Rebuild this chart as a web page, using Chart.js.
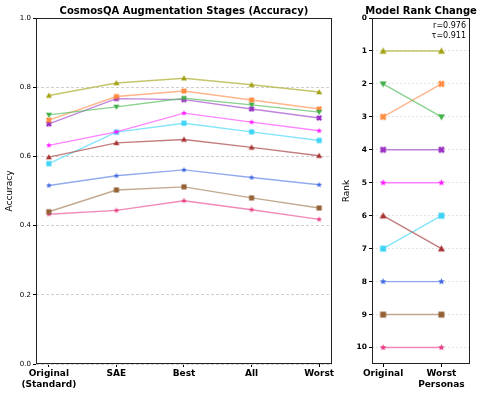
<!DOCTYPE html>
<html>
<head>
<meta charset="utf-8">
<script src="https://cdn.jsdelivr.net/npm/chart.js@4/dist/chart.umd.min.js"></script>
<style>
  body { margin: 0; background: #fff; font-family: "DejaVu Sans", sans-serif; }
  #wrap { position: relative; width: 488px; height: 395px; }
  .title { position: absolute; top: 5px; font-weight: bold; font-size: 10px; line-height: 12px;
           white-space: nowrap; transform: translateX(-50%); color: #000; }
  canvas { position: absolute; top: 0; }
</style>
</head>
<body>
<div id="wrap">
  <canvas id="accChart" width="340" height="395" style="left:0;width:340px;height:395px"></canvas>
  <canvas id="rankChart" width="148" height="395" style="left:340px;width:148px;height:395px"></canvas>
  <div class="title" style="left:184px">CosmosQA Augmentation Stages (Accuracy)</div>
  <div class="title" style="left:421px">Model Rank Change</div>
</div>
<script>
// stages on the left panel
const stageLabels = [["Original", "(Standard)"], "SAE", "Best", "All", "Worst"];
const rankLabels = ["Original", ["Worst", "Personas"]];

// accuracy per model across stages
const model1 = [0.776, 0.812, 0.826, 0.807, 0.786];
const model2 = [0.720, 0.743, 0.768, 0.749, 0.728];
const model3 = [0.705, 0.773, 0.789, 0.763, 0.737];
const model4 = [0.694, 0.767, 0.764, 0.737, 0.711];
const model5 = [0.632, 0.671, 0.725, 0.699, 0.674];
const model6 = [0.598, 0.639, 0.649, 0.626, 0.602];
const model7 = [0.579, 0.670, 0.696, 0.671, 0.646];
const model8 = [0.516, 0.544, 0.561, 0.539, 0.518];
const model9 = [0.440, 0.503, 0.512, 0.480, 0.451];
const model10 = [0.433, 0.444, 0.472, 0.446, 0.418];

// ranks: original vs worst personas
const originalRanks = [1, 2, 3, 4, 5, 6, 7, 8, 9, 10];
const worstRanks = [1, 3, 2, 4, 5, 7, 6, 8, 9, 10];

const pearsonR = 0.976;
const kendallTau = 0.911;

const accSeries = [model1, model2, model3, model4, model5, model6, model7, model8, model9, model10];
const modelColors = ["#a3a312", "#44b04a", "#ff8a3d", "#9a2fc4", "#ff1cff",
                     "#a83434", "#3dd3f5", "#4169e1", "#946236", "#e83e86"];
const lineColors = ["rgba(178,178,60,0.75)", "rgba(90,190,95,0.7)", "rgba(255,150,90,0.7)", "rgba(165,80,205,0.7)", "rgba(255,80,255,0.7)",
                    "rgba(175,80,80,0.75)", "rgba(90,220,248,0.75)", "rgba(100,135,230,0.7)", "rgba(175,140,105,0.75)", "rgba(235,100,160,0.75)"];
const markerShapes = ["up", "down", "x", "x", "star", "up", "square", "star", "square", "star"];

function marker(shape, color, size) {
  const c = document.createElement("canvas");
  c.width = c.height = size + 2;
  const g = c.getContext("2d");
  const m = (size + 2) / 2, r = size / 2;
  g.fillStyle = color;
  g.translate(m, m);
  g.beginPath();
  if (shape === "square") {
    g.rect(-r * 0.85, -r * 0.85, r * 1.7, r * 1.7);
  } else if (shape === "up") {
    g.moveTo(0, -r); g.lineTo(r, r * 0.75); g.lineTo(-r, r * 0.75);
  } else if (shape === "down") {
    g.moveTo(0, r); g.lineTo(r, -r * 0.75); g.lineTo(-r, -r * 0.75);
  } else if (shape === "star") {
    for (let i = 0; i < 10; i++) {
      const a = -Math.PI / 2 + i * Math.PI / 5;
      const rr = i % 2 ? r * 0.45 : r;
      g.lineTo(rr * Math.cos(a), rr * Math.sin(a));
    }
  } else if (shape === "x") {
    const t = r * 0.4;
    g.rotate(Math.PI / 4);
    g.rect(-r, -t, 2 * r, 2 * t);
    g.rect(-t, -r, 2 * t, 2 * r);
  }
  g.closePath();
  g.fill();
  return c;
}

const boxPlugin = {
  id: "box",
  afterDraw(chart) {
    const a = chart.chartArea, ctx = chart.ctx;
    ctx.save();
    ctx.strokeStyle = "#222";
    ctx.lineWidth = 1;
    ctx.strokeRect(Math.round(a.left) + 0.5, Math.round(a.top) + 0.5,
                   Math.round(a.right - a.left) - 1, Math.round(a.bottom - a.top) - 1);
    ctx.restore();
  }
};

const statsPlugin = {
  id: "stats",
  afterDraw(chart) {
    const a = chart.chartArea, ctx = chart.ctx;
    ctx.save();
    ctx.fillStyle = "#000";
    ctx.font = "8px 'DejaVu Sans'";
    ctx.textAlign = "right";
    ctx.textBaseline = "middle";
    ctx.fillText("r=" + pearsonR.toFixed(3), a.right - 4, a.top + 8);
    ctx.fillText("\u03c4=" + kendallTau.toFixed(3), a.right - 4, a.top + 18);
    ctx.restore();
  }
};

Chart.defaults.font.family = "'DejaVu Sans', sans-serif";
Chart.defaults.color = "#000";

// left panel: accuracy by stage
new Chart(document.getElementById("accChart"), {
  type: "line",
  data: {
    datasets: accSeries.map((vals, i) => ({
      label: "Model " + (i + 1),
      data: vals.map((v, j) => ({ x: j, y: v })),
      borderColor: lineColors[i],
      borderWidth: 1.4,
      pointStyle: marker(markerShapes[i], modelColors[i], 6),
      fill: false,
      tension: 0,
    })),
  },
  options: {
    responsive: false,
    animation: false,
    layout: { padding: { top: 18, right: 8, left: 0, bottom: 0 } },
    plugins: { legend: { display: false }, tooltip: { enabled: false } },
    scales: {
      x: {
        type: "linear",
        min: -0.19,
        max: 4.19,
        afterBuildTicks: (s) => { s.ticks = stageLabels.map((_, i) => ({ value: i })); },
        afterFit: (s) => { s.height = 31; },
        ticks: {
          callback: (v) => stageLabels[v],
          font: { size: 9, weight: "bold" },
          maxRotation: 0,
          autoSkip: false,
          padding: 1,
        },
        grid: { drawOnChartArea: false, tickLength: 3, tickColor: "#000" },
        border: { display: false },
      },
      y: {
        min: 0,
        max: 1,
        afterBuildTicks: (s) => { s.ticks = [0, 0.2, 0.4, 0.6, 0.8, 1.0].map((v) => ({ value: v })); },
        afterFit: (s) => { s.width = 36; },
        ticks: { callback: (v) => v.toFixed(1), font: { size: 7 }, padding: 2 },
        grid: { color: "#cfcfcf", tickColor: "#000", tickLength: 3, tickBorderDash: [] },
        border: { display: false, dash: [3, 2] },
        title: { display: true, text: "Accuracy", font: { size: 9 }, padding: { top: 4, bottom: 0 } },
      },
    },
  },
  plugins: [boxPlugin],
});

// right panel: rank change
new Chart(document.getElementById("rankChart"), {
  type: "line",
  data: {
    datasets: originalRanks.map((r, i) => ({
      label: "Model " + (i + 1),
      data: [{ x: 0, y: r }, { x: 1, y: worstRanks[i] }],
      borderColor: lineColors[i],
      borderWidth: 1.4,
      pointStyle: marker(markerShapes[i], modelColors[i], 7),
      fill: false,
    })),
  },
  options: {
    responsive: false,
    animation: false,
    layout: { padding: { top: 18, right: 18, left: 0, bottom: 0 } },
    plugins: { legend: { display: false }, tooltip: { enabled: false } },
    scales: {
      x: {
        type: "linear",
        min: -0.19,
        max: 1.49,
        afterBuildTicks: (s) => { s.ticks = [{ value: 0 }, { value: 1 }]; },
        afterFit: (s) => { s.height = 31; },
        ticks: {
          callback: (v) => rankLabels[v],
          font: { size: 9, weight: "bold" },
          maxRotation: 0,
          autoSkip: false,
          padding: 1,
        },
        grid: { drawOnChartArea: false, tickLength: 3, tickColor: "#000" },
        border: { display: false },
      },
      y: {
        reverse: true,
        min: 0,
        max: 10.5,
        afterBuildTicks: (s) => { s.ticks = [0, 1, 2, 3, 4, 5, 6, 7, 8, 9, 10].map((v) => ({ value: v })); },
        afterFit: (s) => { s.width = 32; },
        ticks: { font: { size: 7.5, weight: "bold" }, padding: 2 },
        grid: { color: "#e2e2e2", tickColor: "#000", tickLength: 3, tickBorderDash: [] },
        border: { display: false, dash: [2, 2] },
        title: { display: true, text: "Rank", font: { size: 9 }, padding: { top: 1, bottom: 0 } },
      },
    },
  },
  plugins: [boxPlugin, statsPlugin],
});
</script>
</body>
</html>
